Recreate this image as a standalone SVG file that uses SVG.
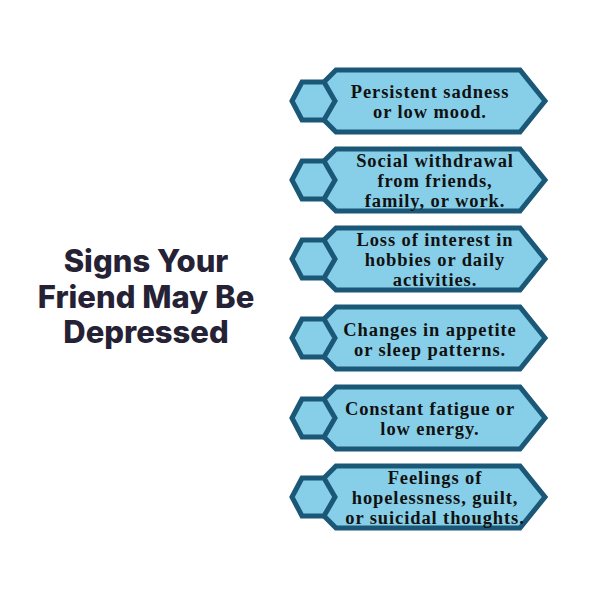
<svg xmlns="http://www.w3.org/2000/svg" width="600" height="600" viewBox="0 0 600 600">
<style>
.b{fill:#87cfe8;stroke:#1b5877;stroke-width:5;stroke-linejoin:miter}
.t{font-family:"Liberation Serif",serif;font-weight:bold;font-size:18.5px;letter-spacing:0.9px;fill:#111;text-anchor:middle}
.h{font-family:"Inter","Liberation Sans",sans-serif;font-weight:800;font-size:31px;fill:#262236;text-anchor:middle}
</style>
<defs>
<g id="item">
<polygon class="b" points="336,-31 520,-31 545,0 520,31 336,31 324,19 324,-19"/>
<polygon class="b" points="292,0 302,-19 324,-19 335,0 324,19 302,19"/>
</g>
</defs>
<rect width="600" height="600" fill="#fff"/>
<g id="title">
<text class="h" x="146" y="272">Signs Your</text>
<text class="h" x="146" y="308">Friend May Be</text>
<text class="h" x="146" y="343">Depressed</text>
</g>
<g id="n1"><use href="#item" y="101"/><text class="t" x="430" y="98">Persistent sadness</text><text class="t" x="430" y="118">or low mood.</text></g>
<g id="n2"><use href="#item" y="180"/><text class="t" x="435" y="167">Social withdrawal</text><text class="t" x="435" y="187">from friends,</text><text class="t" x="435" y="207">family, or work.</text></g>
<g id="n3"><use href="#item" y="259"/><text class="t" x="435" y="246">Loss of interest in</text><text class="t" x="435" y="266">hobbies or daily</text><text class="t" x="435" y="286">activities.</text></g>
<g id="n4"><use href="#item" y="338"/><text class="t" x="430" y="336">Changes in appetite</text><text class="t" x="430" y="356">or sleep patterns.</text></g>
<g id="n5"><use href="#item" y="418"/><text class="t" x="430" y="415">Constant fatigue or</text><text class="t" x="430" y="435">low energy.</text></g>
<g id="n6"><use href="#item" y="497"/><text class="t" x="435" y="484">Feelings of</text><text class="t" x="435" y="504">hopelessness, guilt,</text><text class="t" x="435" y="524">or suicidal thoughts.</text></g>
<g id="connectors"/>
</svg>
